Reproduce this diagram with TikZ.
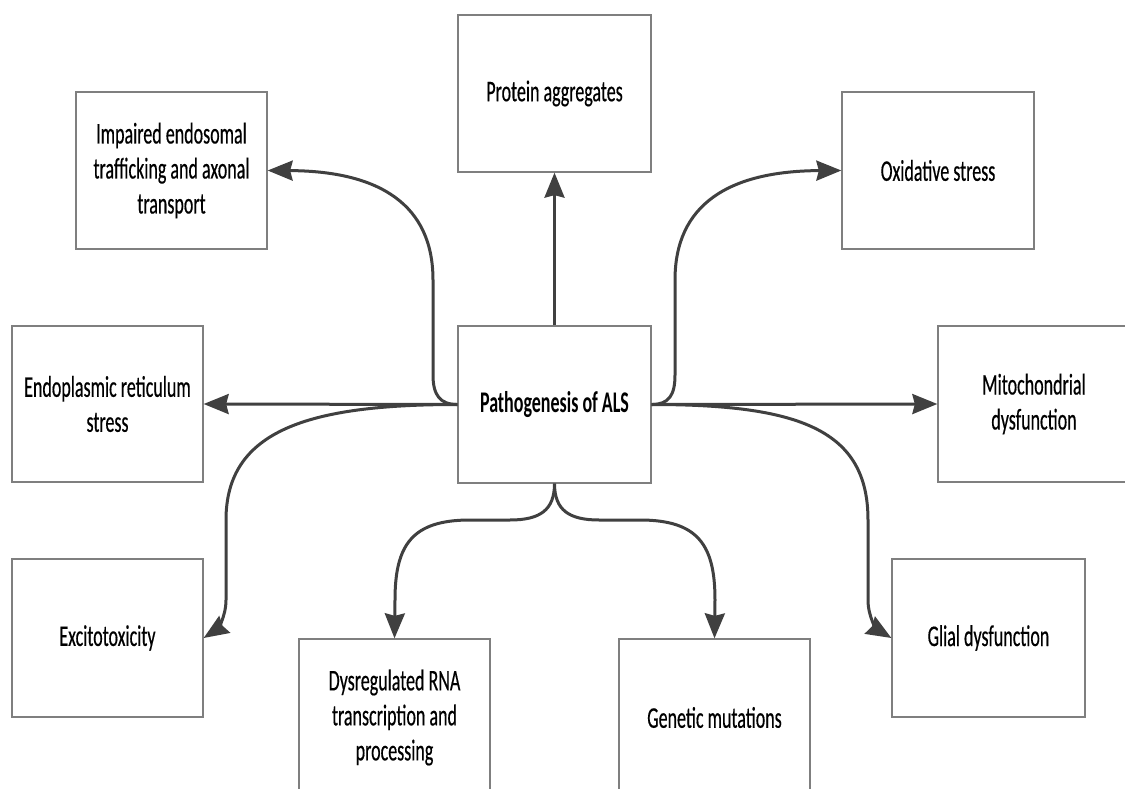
\documentclass[tikz,border=0pt]{standalone}
\usepackage{fontspec}
\setmainfont{Carlito}[FakeStretch=0.6]
\usetikzlibrary{arrows.meta}
\definecolor{boxline}{HTML}{7F7F7F}
\definecolor{conn}{HTML}{404040}
\begin{document}
\begin{tikzpicture}[x=1pt,y=-1pt,
  box/.style={draw=boxline, line width=1.3pt, fill=white, inner sep=0pt,
    minimum width=191pt, minimum height=157pt, align=center,
    font=\fontsize{30}{35}\selectfont\addfontfeature{FakeBold=0.4}},
  arr/.style={draw=conn, line width=3pt,
    -{Stealth[length=25pt,width=20pt,inset=2.5pt]}}]
\clip (0,0) rectangle (1125,789);
\fill[white] (0,0) rectangle (1125,789);
% boxes
\node[box, minimum width=193pt] (prot) at (554.5,93.5) {Protein aggregates};
\node[box] (imp) at (171.5,170.5) {Impaired endosomal\\trafficking and axonal\\transport};
\node[box, minimum width=192pt] (oxi) at (938,170.5) {Oxidative stress};
\node[box, minimum height=156pt] (er) at (107.5,404) {Endoplasmic reticulum\\stress};
\node[box, minimum width=193pt, font=\fontsize{30}{35}\selectfont\bfseries] (als) at (554.5,404.5) {Pathogenesis of ALS};
\node[box, minimum width=192pt, minimum height=156pt] (mito) at (1034,404) {Mitochondrial\\dysfunction};
\node[box, minimum height=158pt] (exc) at (107.5,638) {Excitotoxicity};
\node[box] (rna) at (394.5,717.5) {Dysregulated RNA\\transcription and\\processing};
\node[box] (gen) at (714.5,717.5) {Genetic mutations};
\node[box, minimum width=193pt, minimum height=158pt] (glial) at (988.5,638) {Glial dysfunction};
% connectors
\draw[arr] (als.north) -- (prot.south);
\draw[arr] (als.west) -- (er.east);
\draw[arr] (als.east) -- (mito.west);
\draw[arr] (als.west) .. controls (440,404.5) and (433,395) .. (433,375)
  -- (433,280) .. controls (433,205) and (380,171) .. (imp.east);
\draw[arr] (als.east) .. controls (669,404.5) and (675,395) .. (675,375)
  -- (675,280) .. controls (675,205) and (728,171) .. (oxi.west);
\draw[arr] (als.west) .. controls (309,404.5) and (226,430) .. (226,520)
  -- (226,600) .. controls (226,618) and (216,630) .. (exc.east);
\draw[arr] (als.east) .. controls (800,404.5) and (868,430) .. (868,520)
  -- (868,600) .. controls (868,618) and (878,630) .. (glial.west);
\draw[arr] (als.south) .. controls (554.5,510) and (540,520) .. (510,520)
  -- (470,520) .. controls (412,520) and (395,545) .. (395,600) -- (rna.north);
\draw[arr] (als.south) .. controls (554.5,510) and (569,520) .. (599,520)
  -- (640,520) .. controls (698,520) and (715,545) .. (715,600) -- (gen.north);
\end{tikzpicture}
\end{document}
